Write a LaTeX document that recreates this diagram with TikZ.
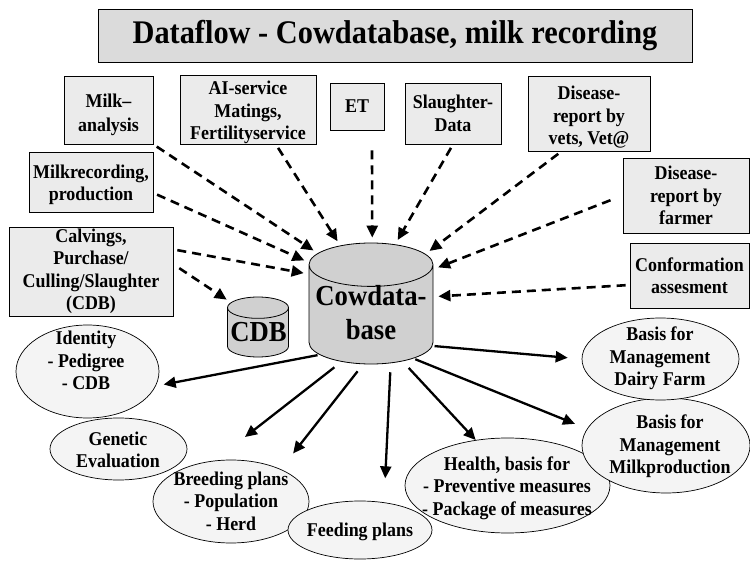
\documentclass[tikz,border=0pt]{standalone}
\usepackage{fontspec}
\setmainfont{Liberation Serif}[FakeStretch=0.92]
\usetikzlibrary{shapes.geometric,arrows.meta}
\begin{document}
\begin{tikzpicture}[x=1pt,y=-1pt,
  every node/.style={font=\bfseries\fontsize{19.5}{22.5}\selectfont, align=center, inner sep=0pt},
  src/.style={draw, fill=gray!16, rectangle, line width=0.8pt},
  goal/.style={draw, fill=gray!9, ellipse, line width=0.7pt},
  db/.style={draw, fill=gray!37, cylinder, shape border rotate=90, aspect=0.35, line width=0.8pt, anchor=shape center},
  dbtext/.style={font=\bfseries\fontsize{29}{34}\selectfont},
  flowin/.style={line width=2.6pt, dash pattern=on 9pt off 6pt,
    -{Triangle[length=12pt,width=11pt]}, shorten <=4pt, shorten >=5pt},
  flowout/.style={line width=2.3pt, -{Triangle[length=12pt,width=11pt]}, shorten <=2pt}]
\useasboundingbox (0,0) rectangle (750,561);

\node[draw, fill=gray!28, line width=0.8pt, minimum width=594, minimum height=53,
  font=\bfseries\fontsize{33}{38}\selectfont] (title) at (395,35.5) {Dataflow - Cowdatabase, milk recording};

\node[src, minimum width=89, minimum height=68] (milk) at (108.5,110) {\rule{0pt}{24pt}Milk–\\[1.5pt]analysis};
\node[src, minimum width=136, minimum height=68] (ai) at (248,110) {\rule{0pt}{19pt}AI-service\\Matings,\\Fertilityservice};
\node[src, minimum width=54, minimum height=47] (et) at (357,106.5) {ET};
\node[src, minimum width=96, minimum height=61] (slaughter) at (453,113.5) {Slaughter-\\Data};
\node[src, minimum width=122, minimum height=75] (vets) at (589,113.5) {\rule{0pt}{21pt}Disease-\\report by\\vets, Vet@};
\node[src, minimum width=124, minimum height=60] (mrec) at (91,182) {\rule{0pt}{19pt}Milkrecording,\\production};
\node[src, minimum width=126, minimum height=75] (farmer) at (686,195.5) {Disease-\\report by\\farmer};
\node[src, minimum width=164, minimum height=89] (calv) at (91,271.5) {Calvings,\\Purchase/\\Culling/Slaughter\\(CDB)};
\node[src, minimum width=119, minimum height=65] (conf) at (689.5,275.5) {Conformation\\assesment};

\node[db, text width=61pt, minimum width=61, minimum height=60] (cdb) at (258,327) {};
\node[dbtext] (cdbtext) at (258.5,332) {CDB};
\node[db, text width=124pt, minimum width=124, minimum height=121] (cow) at (371,303.5) {};
\node[dbtext] (cowtext) at (371,313) {Cowdata-\\base};

\node[goal, minimum width=143, minimum height=93] (identity) at (87.5,371.5) {};
\node (identitytext) at (86,360.5) {Identity\\- Pedigree\\- CDB};
\node[goal, minimum width=137, minimum height=62] (genetic) at (118.5,449) {};
\node (genetictext) at (118,450) {Genetic\\Evaluation};
\node[goal, minimum width=156, minimum height=83] (breeding) at (231,501.5) {};
\node (breedingtext) at (231,501) {Breeding plans\\- Population\\- Herd};
\node[goal, minimum width=144, minimum height=58] (feeding) at (360,530) {};
\node (feedingtext) at (360,532) {Feeding plans};
\node[goal, minimum width=205, minimum height=95] (health) at (507.5,485.5) {};
\node (healthtext) at (507,488) {Health, basis for\\- Preventive measures\\- Package of measures};
\node[goal, minimum width=168, minimum height=95] (milkprod) at (666,445.5) {};
\node (milkprodtext) at (670,446.5) {Basis for\\Management\\Milkproduction};
\node[goal, minimum width=157, minimum height=82] (dairy) at (660.5,359) {};
\node (dairytext) at (660,358.5) {Basis for\\Management\\Dairy Farm};

\path[draw,flowin] (milk.south east) -- (cow.131);
\path[draw,flowin] (ai.-51) -- (cow.114);
\path[draw,flowin,shorten <=20pt] (et.-58) -- (cow.89);
\path[draw,flowin] (slaughter.south) -- (cow.71);
\path[draw,flowin] (vets.-126) -- (cow.48);
\path[draw,flowin] (mrec.-10) -- (cow.140);
\path[draw,flowin,shorten <=13pt] (farmer.west) -- (cow.36);
\path[draw,flowin] (calv.15) -- (cow.147);
\path[draw,flowin,shorten <=7pt] (calv.5) -- (cdb.132);
\path[draw,flowin] (conf.189) -- (cow.16);

\coordinate (genend) at (245,437);
\path[draw,flowout,shorten >=8pt] (cow.218) -- (identity.-12);
\path[draw,flowout,shorten <=9pt] (cow.238) -- (genend);
\path[draw,flowout,shorten <=9pt,shorten >=20pt] (cow.261) -- (breeding.33);
\path[draw,flowout,shorten <=9pt,shorten >=24pt] (cow.-68) -- (feeding.49);
\path[draw,flowout,shorten <=9pt] (cow.-56) -- (health.125);
\path[draw,flowout,shorten >=13pt] (cow.-46) -- (milkprod.168);
\path[draw,flowout,shorten >=14pt] (cow.-27) -- (dairy.west);
\end{tikzpicture}
\end{document}
